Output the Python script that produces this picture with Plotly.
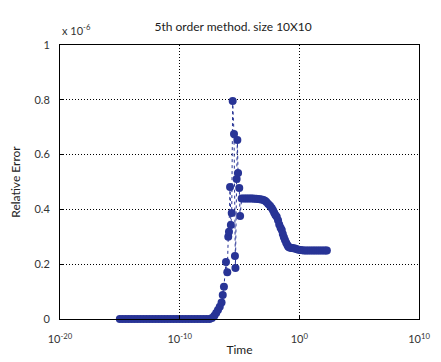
import plotly.graph_objects as go

# log10(time) and relative error (in units of 1e-6)
log_time = [
    -15.0, -14.75, -14.5, -14.25, -14.0, -13.75, -13.5, -13.25, -13.0, -12.75,
    -12.5, -12.25, -12.0, -11.75, -11.5, -11.25, -11.0, -10.75, -10.5, -10.25,
    -10.0, -9.75, -9.5, -9.25, -9.0, -8.75, -8.5, -8.25, -8.0, -7.75,
    -7.5, -7.3, -7.1, -6.95, -6.8, -6.65, -6.5, -6.4, -6.3,
    -6.13, -6.02, -5.94, -5.88, -5.79, -5.72, -5.65, -5.57, -5.46, -5.38,
    -5.34, -5.24, -5.18, -5.12, -5.02, -4.95, -4.82,
    -4.65, -4.5, -4.35, -4.2, -4.05, -3.9, -3.75, -3.6, -3.45, -3.3,
    -3.15, -3.0, -2.87, -2.75, -2.6, -2.45, -2.31, -2.2, -2.1, -2.0,
    -1.89, -1.78, -1.68, -1.57, -1.47, -1.38, -1.29, -1.2, -1.1, -1.0,
    -0.92, -0.82, -0.72, -0.62, -0.5, -0.36, -0.2, -0.05, 0.1, 0.25,
    0.4, 0.55, 0.7, 0.85, 1.0, 1.15, 1.3, 1.45, 1.6, 1.75,
    1.9, 2.05, 2.2, 2.3,
]
rel_error = [
    0.0, 0.0, 0.0, 0.0, 0.0, 0.0, 0.0, 0.0, 0.0, 0.0,
    0.0, 0.0, 0.0, 0.0, 0.0, 0.0, 0.0, 0.0, 0.0, 0.0,
    0.0, 0.0, 0.0, 0.0, 0.0, 0.0, 0.0, 0.0, 0.0, 0.0,
    0.0, 0.004, 0.012, 0.022, 0.033, 0.045, 0.06, 0.088, 0.118,
    0.208, 0.171, 0.30, 0.318, 0.482, 0.343, 0.387, 0.796, 0.675, 0.23,
    0.186, 0.511, 0.653, 0.533, 0.478, 0.376, 0.44,
    0.44, 0.44, 0.44, 0.44, 0.44, 0.44, 0.439, 0.439, 0.438, 0.437,
    0.436, 0.434, 0.432, 0.427, 0.42, 0.413, 0.405, 0.397, 0.388, 0.38,
    0.373, 0.36, 0.345, 0.333, 0.325, 0.31, 0.298, 0.288, 0.278, 0.27,
    0.264, 0.261, 0.26, 0.259, 0.258, 0.257, 0.255, 0.253, 0.252, 0.251,
    0.25, 0.25, 0.25, 0.25, 0.25, 0.25, 0.25, 0.25, 0.25, 0.25,
    0.25, 0.25, 0.25, 0.25,
]
time = [10 ** v for v in log_time]

x_tick_vals = [1e-20, 1e-10, 1e0, 1e10]
x_tick_text = ["10<sup>-20</sup>", "10<sup>-10</sup>", "10<sup>0</sup>", "10<sup>10</sup>"]
y_tick_vals = [0, 0.2, 0.4, 0.6, 0.8, 1]
y_tick_text = ["0", "0.2", "0.4", "0.6", "0.8", "1"]

blue = "rgb(40,52,150)"
font_family = "Lato, 'DejaVu Sans', sans-serif"

fig = go.Figure()
fig.add_trace(go.Scatter(
    x=time, y=rel_error, mode="lines+markers",
    line=dict(color=blue, width=1, dash="dot"),
    marker=dict(color=blue, size=8, line=dict(width=0)),
    showlegend=False, cliponaxis=False,
))

axis_common = dict(
    showline=True, linecolor="black", linewidth=1, mirror=True,
    showgrid=True, gridcolor="black", gridwidth=1, griddash="1px,2px",
    ticks="inside", ticklen=4, tickcolor="black",
    zeroline=False, automargin=False,
    tickfont=dict(family=font_family, size=11, color="#333"),
)

fig.update_xaxes(
    type="log", range=[-20, 10], tickvals=x_tick_vals, ticktext=x_tick_text,
    ticklabelstandoff=10,
    title=dict(text="Time", font=dict(family=font_family, size=12, color="#222"), standoff=1),
    **axis_common,
)
fig.update_yaxes(
    range=[0, 1], tickvals=y_tick_vals, ticktext=y_tick_text,
    ticklabelstandoff=7,
    title=dict(text="Relative Error", font=dict(family=font_family, size=12, color="#222"), standoff=14),
    **axis_common,
)

# the page body adds an 8px offset at left/top, so the figure is sized to fit the window
fig.update_layout(
    width=433, height=354,
    margin=dict(l=52, r=22, t=37, b=43),
    paper_bgcolor="white", plot_bgcolor="white",
    title=dict(text="5th order method. size 10X10", x=0.52, xanchor="center",
               y=0.946, yanchor="middle",
               font=dict(family=font_family, size=12, color="#222")),
    annotations=[dict(
        text="x 10<sup>-6</sup>", xref="paper", yref="paper", x=0.0, y=1.0,
        xanchor="left", yanchor="bottom", yshift=6, showarrow=False,
        font=dict(family=font_family, size=11, color="#333"),
    )],
)

fig.write_html("out.html")
